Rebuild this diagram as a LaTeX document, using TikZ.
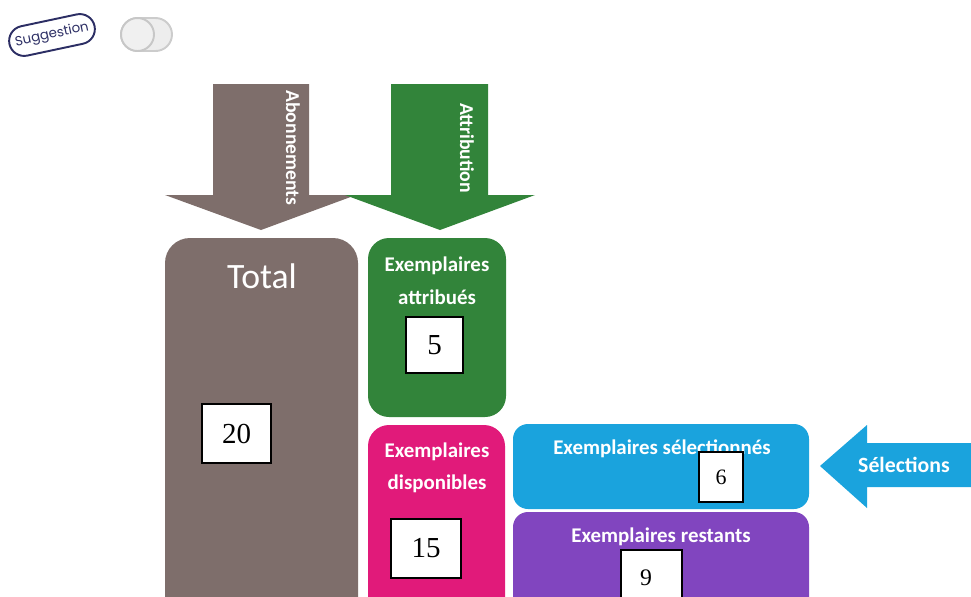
\documentclass[tikz,border=0pt]{standalone}
\usepackage{fontspec}
\setmainfont{Carlito}
\newfontfamily\numfont{Liberation Serif}
\newfontfamily\popfont{Poppins}
\definecolor{cbrown}{HTML}{7E6E6B}
\definecolor{cgreen}{HTML}{32843A}
\definecolor{cpink}{HTML}{E11A7A}
\definecolor{cblue}{HTML}{1AA3DD}
\definecolor{cpurple}{HTML}{8145BF}
\definecolor{cnavy}{HTML}{2C2E64}
\begin{document}
\begin{tikzpicture}[x=0.02cm,y=-0.02cm,
  lbl/.style={text=white,font=\bfseries\fontsize{11.9}{13}\selectfont,inner sep=0pt},
  numbox/.style={draw=black,fill=white,line width=0.6pt,inner sep=0pt,font=\numfont\fontsize{16.5}{18}\selectfont},
]
\useasboundingbox (0,0) rectangle (971,596);
\clip (0,0) rectangle (971,596);
% badge
\node[draw=cnavy,line width=1.1pt,rounded corners=0.3cm,rotate=12,minimum width=1.74cm,minimum height=0.6cm,text=cnavy,font=\popfont\fontsize{7.6}{9}\selectfont,inner sep=0pt] (sugg) at (52,35) {Suggestion};
% toggle
\draw[draw=black!20,fill=black!7,line width=1.1pt,rounded corners=0.33cm] (121,18) rectangle (172,51);
\node[circle,draw=black!22,fill=black!6,line width=1.1pt,minimum size=0.66cm,inner sep=0pt] (knob) at (137.5,34.5) {};
% arrows
\fill[cbrown] (213,84) -- (309,84) -- (309,195) -- (356,195) -- (261,230) -- (165,195) -- (213,195) -- cycle;
\fill[cgreen] (391,84) -- (488,84) -- (488,195) -- (535,195) -- (440,230) -- (345,195) -- (391,195) -- cycle;
\node[lbl,rotate=-90,font=\bfseries\fontsize{11.2}{13}\selectfont] (abo) at (293,148) {Abonnements};
\node[lbl,rotate=-90,font=\bfseries\fontsize{11.2}{13}\selectfont] (attr) at (467,148) {Attribution};
% boxes
\fill[cbrown,rounded corners=0.5cm] (165,238) rectangle (358,640);
\fill[cgreen,rounded corners=0.42cm] (368,238) rectangle (506,417);
\fill[cpink,rounded corners=0.42cm] (368,425) rectangle (505,640);
\fill[cblue,rounded corners=0.3cm] (513,424) rectangle (809,509);
\fill[cpurple,rounded corners=0.3cm] (513,512) rectangle (809,640);
\fill[cblue] (820,466) -- (867,425) -- (867,443) -- (975,443) -- (975,487) -- (867,487) -- (867,508) -- cycle;
% labels
\node[text=white,inner sep=0pt,font=\fontsize{20.3}{24}\selectfont] (total) at (262,276) {Total};
\node[lbl] (ea1) at (437,266) {Exemplaires};
\node[lbl] (ea2) at (437,297) {attribués};
\node[lbl] (ed1) at (437,452) {Exemplaires};
\node[lbl] (ed2) at (437,484) {disponibles};
\node[lbl] (es) at (662,449) {Exemplaires sélectionnés};
\node[lbl] (er) at (661,537) {Exemplaires restants};
\node[lbl,font=\bfseries\fontsize{12.4}{14}\selectfont] (sel) at (904,465) {Sélections};
% number boxes
\node[numbox,minimum width={69*0.02cm},minimum height={59*0.02cm}] (n20) at (236.5,433.5) {20};
\node[numbox,minimum width={57*0.02cm},minimum height={56*0.02cm}] (n5) at (434.5,345) {5};
\node[numbox,minimum width={70*0.02cm},minimum height={59*0.02cm}] (n15) at (426,548.5) {15};
\node[numbox,minimum width={44*0.02cm},minimum height={50*0.02cm},font=\numfont\fontsize{12.5}{14}\selectfont] (n6) at (721,477) {6};
\draw[numbox] (621,550) rectangle (682,605);
\node[inner sep=0pt,font=\numfont\fontsize{13.5}{15}\selectfont] (n9) at (646,578) {9};
\end{tikzpicture}
\end{document}
